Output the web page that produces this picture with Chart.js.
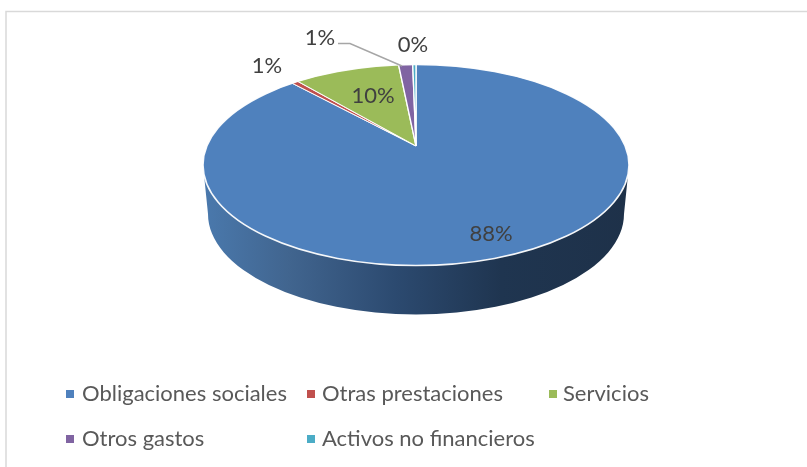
<!DOCTYPE html>
<html>
<head>
<meta charset="utf-8">
<style>html,body{margin:0;padding:0;background:#fff}canvas{display:block}</style>
<script src="https://cdn.jsdelivr.net/npm/chart.js@4/dist/chart.umd.min.js"></script>
</head>
<body>
<canvas id="c" width="807" height="467"></canvas>
<script>
const categories = ["Obligaciones sociales","Otras prestaciones","Servicios","Otros gastos","Activos no financieros"];
const values = [88.1,0.6,9.7,1.3,0.3];
const labels = ["88%","1%","10%","1%","0%"];
const colors = ["#4F81BD","#C0504D","#9BBB59","#8064A2","#4BACC6"];

const top3d = {cx:416,cy:165,rx:213,ry:100.5};
const bottom3d = {cx:416,cy:214,rx:208,ry:100.5};
const apex = {x:416,y:146,sx:266,sy:125};
const labelPlaces = [[491,234],[267,66],[373,96],[320,38],[413,45]];
const legendCols = [[66,82],[307,322],[549,563]];
const legendRows = [394,439];
const legendSlots = [[0,0],[1,0],[2,0],[0,1],[1,1]];
const FONT = 'Lato, "Open Sans", sans-serif';

const scene = {
  id:'scene',
  beforeDraw(chart){
    const c = chart.ctx;
    c.save();
    c.fillStyle='#fff';c.fillRect(0,0,807,467);
    c.strokeStyle='#d9d9d9';c.lineWidth=1.5;
    c.beginPath();c.moveTo(6,467);c.lineTo(6,11.5);c.lineTo(807,11.5);c.stroke();
    c.restore();
  },
  beforeDatasetsDraw(chart){
    const c = chart.ctx;
    const g = c.createLinearGradient(203,0,629,0);
    g.addColorStop(0,'#4a79ad');
    g.addColorStop(0.2,'#41658f');
    g.addColorStop(0.45,'#2c4a70');
    g.addColorStop(0.7,'#1f3550');
    g.addColorStop(1,'#1e3149');
    c.save();
    c.fillStyle=g;
    c.beginPath();
    c.ellipse(bottom3d.cx,bottom3d.cy,bottom3d.rx,bottom3d.ry,0,0,Math.PI);
    c.lineTo(top3d.cx-top3d.rx,top3d.cy);
    c.lineTo(top3d.cx+top3d.rx,top3d.cy);
    c.closePath();
    c.fill();
    c.restore();
    const m = chart.getDatasetMeta(0).data[0];
    c.save();
    c.beginPath();
    c.ellipse(top3d.cx,top3d.cy,top3d.rx,top3d.ry,0,0,Math.PI*2);
    c.clip();
    c.translate(apex.x,apex.y);
    c.scale(apex.sx/m.outerRadius,apex.sy/m.outerRadius);
    c.translate(-m.x,-m.y);
  },
  afterDatasetsDraw(chart){
    const c = chart.ctx;
    c.restore();
    c.save();
    c.strokeStyle='rgba(255,255,255,0.95)';c.lineWidth=1.6;
    c.beginPath();
    c.ellipse(top3d.cx,top3d.cy,top3d.rx,top3d.ry,0,0,Math.PI*2);
    c.stroke();
    c.strokeStyle='#a6a6a6';c.lineWidth=1.5;
    c.beginPath();c.moveTo(338,43.5);c.lineTo(350,43.5);c.lineTo(402,66);c.stroke();
    c.fillStyle='#404040';c.font='22px '+FONT;c.textAlign='center';c.textBaseline='middle';
    labels.forEach((t,i)=>c.fillText(t,labelPlaces[i][0],labelPlaces[i][1]));
    c.textAlign='left';c.font='22px '+FONT;
    categories.forEach((t,i)=>{
      const [col,row]=legendSlots[i];
      const y=legendRows[row];
      c.fillStyle=colors[i];
      c.fillRect(legendCols[col][0],y-4,8,8);
      c.fillStyle='#595959';
      c.fillText(t,legendCols[col][1],y);
    });
    c.restore();
  }
};

new Chart(document.getElementById('c'),{
  type:'pie',
  data:{labels:categories,datasets:[{data:values,backgroundColor:colors,borderColor:'#fff',borderWidth:1.2}]},
  options:{
    responsive:false,animation:false,
    rotation:0,
    plugins:{legend:{display:false},tooltip:{enabled:false},title:{display:false}}
  },
  plugins:[scene]
});
</script>
</body>
</html>
